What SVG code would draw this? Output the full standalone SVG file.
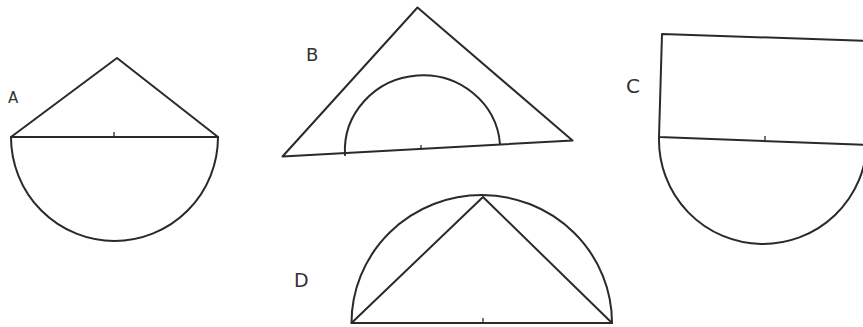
<svg xmlns="http://www.w3.org/2000/svg" width="863" height="327" viewBox="0 0 863 327">
<style>
.s{fill:none;stroke:#2a2a2a;stroke-width:2;stroke-linejoin:round;stroke-linecap:round}
.t{stroke:#2a2a2a;stroke-width:1.3}
.l{font-family:"DejaVu Sans","Liberation Sans",sans-serif;fill:#333}
</style>
<rect width="863" height="327" fill="#fff"/>
<g id="figA">
<path class="s" d="M11,137 L117,58 L218,137"/>
<path class="s" d="M11,137 L218,137"/>
<path class="s" d="M11,137 A103.5,104 0 0 0 218,137"/>
<path class="t" d="M114,137 L114,132"/>
<text class="l" x="8" y="103" font-size="15">A</text>
</g>
<g id="figB">
<path class="s" d="M282.5,156.5 L417.5,7.5 L572.5,140.5 Z"/>
<path class="s" d="M345,155 A77.7,75 -4 0 1 500,144"/>
<path class="t" d="M421,150 L421,145"/>
<text class="l" x="306" y="61" font-size="18">B</text>
</g>
<g id="figC">
<path class="s" d="M870,41 L662,34 L659,137 L870,145"/>
<path class="s" d="M659,138 A104,104 0 0 0 867,142"/>
<path class="t" d="M765,141 L765,136"/>
<text class="l" x="626" y="93" font-size="20">C</text>
</g>
<g id="figD">
<path class="s" d="M351.5,323 L483,197 L612,323 Z"/>
<path class="s" d="M351.5,323 A130.25,128 0 0 1 612,323"/>
<path class="t" d="M483,323 L483,318"/>
<text class="l" x="294" y="287" font-size="19">D</text>
</g>
</svg>
